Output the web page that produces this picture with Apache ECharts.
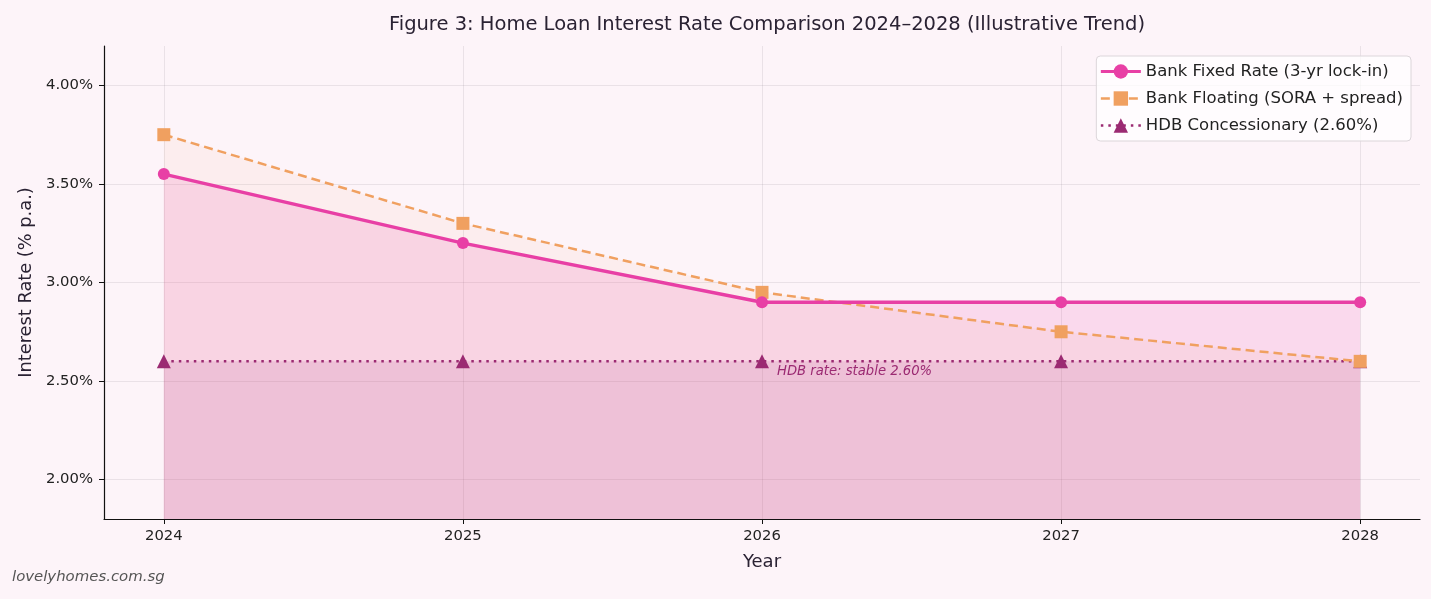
<!DOCTYPE html>
<html>
<head>
<meta charset="utf-8">
<script src="https://cdn.jsdelivr.net/npm/echarts@6/dist/echarts.min.js"></script>
<style>
html,body{margin:0;padding:0;background:#fdf4f9;}
#chart{width:1431px;height:599px;}
</style>
</head>
<body>
<div id="chart"></div>
<script>
const years = [2024, 2025, 2026, 2027, 2028];
const fixedRate = [3.55, 3.20, 2.90, 2.90, 2.90];
const floatingRate = [3.75, 3.30, 2.95, 2.75, 2.60];
const hdbRate = [2.60, 2.60, 2.60, 2.60, 2.60];
const yTicks = [2.0, 2.5, 3.0, 3.5, 4.0];
const seriesNames = ['Bank Fixed Rate (3-yr lock-in)', 'Bank Floating (SORA + spread)', 'HDB Concessionary (2.60%)'];
const titleText = 'Figure 3: Home Loan Interest Rate Comparison 2024\u20132028 (Illustrative Trend)';
const noteText = 'HDB rate: stable 2.60%';
const sourceText = 'lovelyhomes.com.sg';

const FONT = '"DejaVu Sans", sans-serif';
const pair = arr => years.map((y, i) => [y, arr[i]]);

const chart = echarts.init(document.getElementById('chart'), null, {renderer: 'canvas'});

function areaSeries(name, data, color) {
  return {
    name: name, type: 'line', data: data, showSymbol: false, silent: true,
    lineStyle: {width: 0, opacity: 0},
    areaStyle: {color: color, origin: 'start'},
    z: 1
  };
}

const option = {
  backgroundColor: '#fdf4f9',
  animation: false,
  title: {
    text: titleText, left: 762, top: 10, textAlign: 'center',
    textStyle: {fontFamily: FONT, fontSize: 19.5, fontWeight: 'normal', color: '#2a2233'}
  },
  grid: {left: 104, right: 11, top: 46, bottom: 80},
  legend: {
    data: [
      {name: seriesNames[0], lineStyle: {width: 3}},
      {name: seriesNames[1], lineStyle: {width: 2.5}},
      {name: seriesNames[2], lineStyle: {width: 2.5}}
    ],
    right: 20, top: 56, orient: 'vertical',
    itemWidth: 40, itemHeight: 18, itemGap: 10, itemTextGap: 10,
    padding: [7, 8, 7, 3],
    backgroundColor: 'rgba(255,255,255,0.75)',
    borderColor: '#dcd6da', borderWidth: 1, borderRadius: 4,
    textStyle: {fontFamily: FONT, fontSize: 16.5, color: '#222'}
  },
  xAxis: {
    type: 'value', min: 2023.8, max: 2028.2,
    name: 'Year', nameLocation: 'middle', nameGap: 34,
    nameTextStyle: {fontFamily: FONT, fontSize: 18, color: '#2a2233'},
    axisLine: {show: true, lineStyle: {color: '#111', width: 1.2}},
    axisTick: {show: true, length: 5, lineStyle: {color: '#111'}, customValues: years},
    axisLabel: {customValues: years, fontFamily: FONT, fontSize: 14.8, color: '#222', margin: 10, formatter: v => String(v)},
    splitLine: {show: true, lineStyle: {color: 'rgba(150,140,150,0.18)', width: 1}}
  },
  yAxis: {
    type: 'value', min: 1.8, max: 4.2,
    name: 'Interest Rate (% p.a.)', nameLocation: 'middle', nameGap: 68, nameRotate: 90,
    nameTextStyle: {fontFamily: FONT, fontSize: 17.8, color: '#2a2233'},
    axisLine: {show: true, lineStyle: {color: '#111', width: 1.2}},
    axisTick: {show: true, length: 5, lineStyle: {color: '#111'}, customValues: yTicks},
    axisLabel: {customValues: yTicks, fontFamily: FONT, fontSize: 14.8, color: '#222', margin: 11,
      formatter: v => v.toFixed(2) + '%'},
    splitLine: {show: true, lineStyle: {color: 'rgba(150,140,150,0.18)', width: 1}}
  },
  graphic: [{
    type: 'text', left: 12, top: 570,
    style: {text: sourceText, fontFamily: FONT, fontSize: 14.9, fontStyle: 'italic', fill: '#555'}
  }],
  series: [
    areaSeries('_fixedArea', pair(fixedRate), 'rgba(232,64,165,0.21)'),
    areaSeries('_floatArea', pair(floatingRate), 'rgba(240,160,96,0.10)'),
    areaSeries('_hdbArea', pair(hdbRate), 'rgba(155,42,114,0.15)'),
    {
      name: seriesNames[2], type: 'line', data: pair(hdbRate), z: 3,
      symbol: 'triangle', symbolSize: 14,
      itemStyle: {color: '#9b2a72'},
      lineStyle: {color: '#9b2a72', width: 2.5, type: [2.5, 5]},
      markPoint: {
        symbol: 'circle', symbolSize: 0,
        data: [{coord: [years[2], hdbRate[2]], value: noteText}],
        label: {show: true, position: 'right', offset: [10, 10], formatter: noteText,
          fontFamily: FONT, fontSize: 13.2, fontStyle: 'italic', color: '#9b2a72'}
      }
    },
    {
      name: seriesNames[1], type: 'line', data: pair(floatingRate), z: 4,
      symbol: 'rect', symbolSize: 13,
      itemStyle: {color: '#f0a060'},
      lineStyle: {color: '#f0a060', width: 2.5, type: [9, 5]}
    },
    {
      name: seriesNames[0], type: 'line', data: pair(fixedRate), z: 5,
      symbol: 'circle', symbolSize: 12,
      itemStyle: {color: '#e83fa5'},
      lineStyle: {color: '#e83fa5', width: 3.4}
    }
  ]
};
chart.setOption(option);
</script>
</body>
</html>
